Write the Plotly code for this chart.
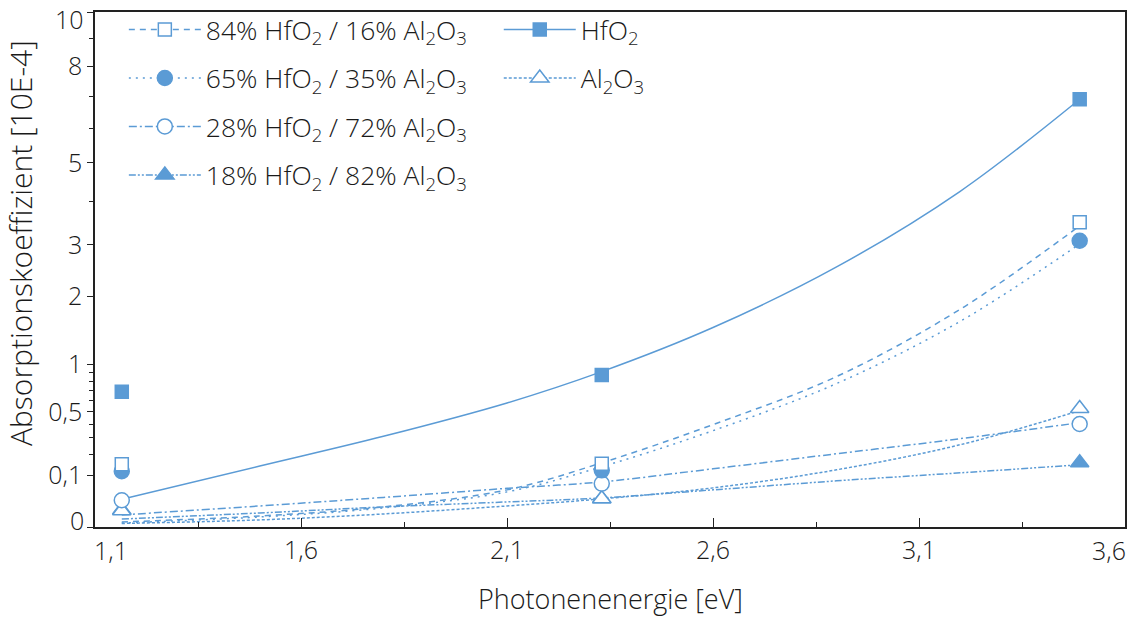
import numpy as np
import plotly.graph_objects as go

# ---------------- data (absorption coefficient in 10E-4) ----------------
x_meas = [1.165, 2.33, 3.49]
hfo2 = [0.69, 0.87, 6.9]
mix84 = [0.148, 0.151, 3.5]
mix65 = [0.117, 0.121, 3.09]
mix28 = [0.027, 0.071, 0.40]
mix18 = [0.011, 0.030, 0.156]
al2o3 = [0.010, 0.030, 0.53]

# fitted curves
x_fit = [1.165, 1.5, 1.8, 2.1, 2.33, 2.6, 2.9, 3.2, 3.49]
fit_hfo2 = [0.029, 0.14, 0.31, 0.58, 0.91, 1.5, 2.55, 4.25, 6.9]
fit84 = [0.00095, 0.0046, 0.0152, 0.052, 0.1555, 0.395, 0.854, 1.788, 3.42]
fit65 = [0.0006, 0.0038, 0.0137, 0.0465, 0.137, 0.35, 0.776, 1.595, 3.02]
fit28 = [0.0055, 0.0167, 0.033, 0.0563, 0.0769, 0.1277, 0.2023, 0.294, 0.4106]
fit18 = [0.0024, 0.0074, 0.0152, 0.0237, 0.0319, 0.052, 0.0803, 0.1107, 0.1459]
fitAl = [0.00047, 0.0019, 0.0064, 0.0167, 0.0298, 0.0577, 0.1233, 0.2553, 0.5108]

y_major = [0, 0.1, 0.5, 1, 2, 3, 5, 8, 10]
y_major_text = ["", "0,1", "0,5", "1", "2", "3", "5", "8", ""]
y_minor = [0.2, 0.3, 0.4, 0.6, 0.7, 0.8, 0.9, 4, 6, 7, 9]
x_major = [1.1, 1.6, 2.1, 2.6, 3.1, 3.6]
x_major_text = ["", "1,6", "2,1", "2,6", "3,1", ""]
x_minor = [1.35, 1.85, 2.35, 2.85, 3.35]

BLUE = "#5B9BD5"
FONT = "Open Sans"
TXT = "#1a1a1a"
WGT = 300
TICK_SIZE = 25
LEG_SIZE = 26.5

def tr(v):
    return np.sqrt(np.asarray(v, dtype=float))

series = [
    ("18% HfO<sub>2</sub> / 82% Al<sub>2</sub>O<sub>3</sub>", mix18, fit18,
     "7px,2px,2px,2px,2px,2px", "triangle-up", True, "legend", 16),
    ("Al<sub>2</sub>O<sub>3</sub>", al2o3, fitAl, "3px,2px", "triangle-up", False, "legend2", 16),
    ("28% HfO<sub>2</sub> / 72% Al<sub>2</sub>O<sub>3</sub>", mix28, fit28,
     "8px,3px,2px,3px", "circle", False, "legend", 15),
    ("65% HfO<sub>2</sub> / 35% Al<sub>2</sub>O<sub>3</sub>", mix65, fit65,
     "2px,5px", "circle", True, "legend", 15),
    ("84% HfO<sub>2</sub> / 16% Al<sub>2</sub>O<sub>3</sub>", mix84, fit84,
     "6px,5px", "square", False, "legend", 13),
    ("HfO<sub>2</sub>", hfo2, fit_hfo2, "solid", "square", True, "legend2", 13),
]

fig = go.Figure()

# fitted lines
for name, meas, fit, dash, sym, filled, leg, ms in series:
    fig.add_trace(go.Scatter(
        x=x_fit, y=tr(fit), mode="lines", line=dict(color=BLUE, width=1.5, dash=dash, shape="spline"),
        showlegend=False, hoverinfo="skip"))

# measured points
for name, meas, fit, dash, sym, filled, leg, ms in series:
    fig.add_trace(go.Scatter(
        x=x_meas, y=tr(meas), mode="markers",
        marker=dict(symbol=sym, size=ms, color=BLUE if filled else "white",
                    line=dict(color=BLUE, width=1.5)),
        showlegend=False))

# legend entries
order = [4, 3, 2, 0, 5, 1]
for i, idx in enumerate(order):
    name, meas, fit, dash, sym, filled, leg, ms = series[idx]
    fig.add_trace(go.Scatter(
        x=[None], y=[None], mode="lines+markers", name=name, legend=leg,
        legendgroup="g%d" % i, legendrank=i,
        line=dict(color=BLUE, width=1.5, dash=dash),
        marker=dict(symbol=sym, size=ms, color=BLUE if filled else "white",
                    line=dict(color=BLUE, width=1.5))))

leg_font = dict(size=LEG_SIZE, family=FONT, color=TXT, weight=WGT)
tick_font = dict(size=TICK_SIZE, family=FONT, color=TXT, weight=WGT)

fig.update_layout(
    width=1131, height=619,
    margin=dict(l=95, r=4, t=12, b=92),
    paper_bgcolor="white", plot_bgcolor="white",
    font=dict(family=FONT, size=TICK_SIZE, color=TXT, weight=WGT),
    legend=dict(x=0.028, y=1.012, xanchor="left", yanchor="top", bgcolor="rgba(0,0,0,0)",
                font=leg_font, itemwidth=72, tracegroupgap=11, itemclick=False),
    legend2=dict(x=0.392, y=1.012, xanchor="left", yanchor="top", bgcolor="rgba(0,0,0,0)",
                 font=leg_font, itemwidth=72, tracegroupgap=11),
    xaxis=dict(range=[1.1, 3.6], tickmode="array", tickvals=x_major, ticktext=x_major_text,
               ticks="inside", ticklen=9, tickwidth=1.2, tickcolor="#222",
               minor=dict(tickmode="array", tickvals=x_minor, ticks="inside", ticklen=5,
                          tickwidth=1.2, tickcolor="#222"),
               showline=True, linecolor="#222", linewidth=1.5, mirror=True,
               showgrid=False, zeroline=False, tickfont=tick_font),
    yaxis=dict(range=[0, float(np.sqrt(10))], tickmode="array", tickvals=tr(y_major),
               ticktext=y_major_text, ticks="outside", ticklen=6, tickwidth=1.2, tickcolor="#222",
               minor=dict(tickmode="array", tickvals=tr(y_minor), ticks="outside", ticklen=4,
                          tickwidth=1.2, tickcolor="#222"),
               showline=True, linecolor="#222", linewidth=1.5, mirror=True,
               showgrid=False, zeroline=False, tickfont=tick_font),
)

ann = [
    dict(text="0", xref="paper", x=0, xanchor="right", xshift=-9, yref="y", y=0, yshift=7,
         yanchor="middle", font=tick_font),
    dict(text="10", xref="paper", x=0, xanchor="right", xshift=-9, yref="y",
         y=float(np.sqrt(10)), yshift=-7, yanchor="middle", font=tick_font),
    dict(text="1,1", xref="x", x=1.1, xanchor="center", xshift=16, yref="paper", y=0,
         yanchor="middle", yshift=-23, font=tick_font),
    dict(text="3,6", xref="x", x=3.6, xanchor="center", xshift=-16, yref="paper", y=0,
         yanchor="middle", yshift=-23, font=tick_font),
    dict(text="Absorptionskoeffizient [10E-4]", xref="paper", x=-0.073, yref="paper", y=0.551,
         textangle=-90, xanchor="center", yanchor="middle",
         font=dict(size=30, family=FONT, color=TXT, weight=WGT)),
    dict(text="Photonenenergie [eV]", xref="paper", x=0.5, yref="paper", y=-0.138,
         xanchor="center", yanchor="middle",
         font=dict(size=27, family=FONT, color=TXT, weight=WGT)),
]
for a in ann:
    a.update(showarrow=False)
fig.update_layout(annotations=ann)

fig.write_html("out.html")
